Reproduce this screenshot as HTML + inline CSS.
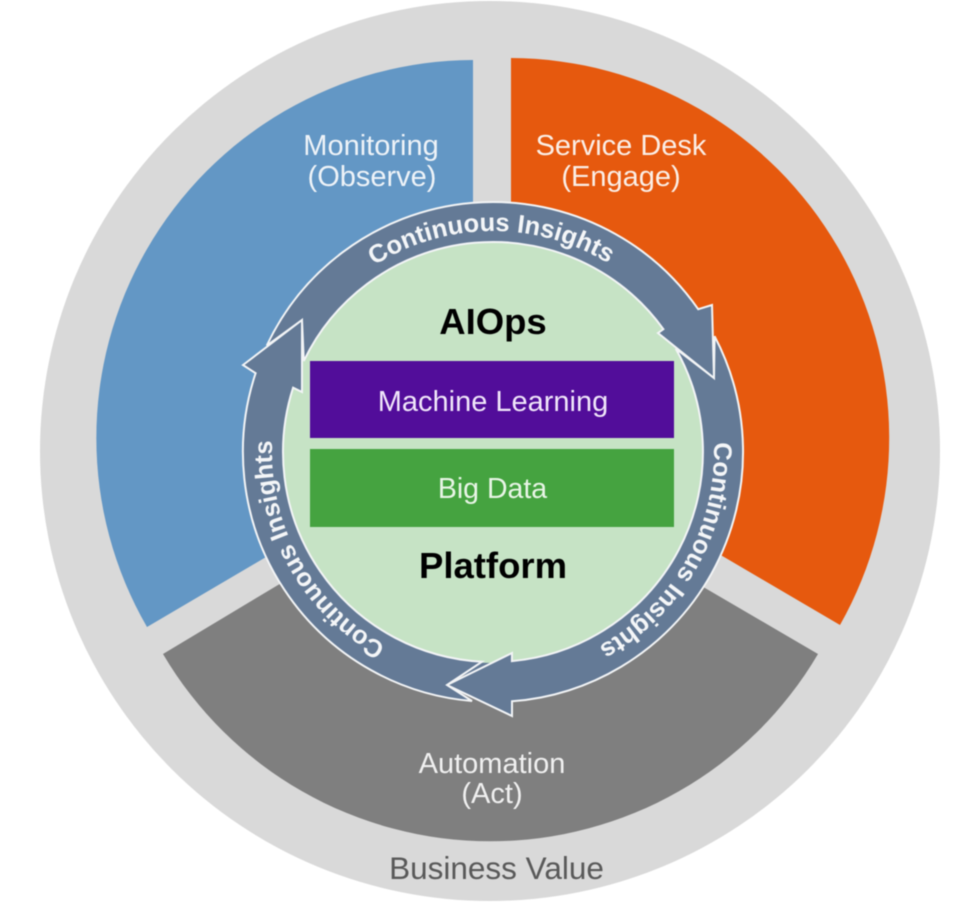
<!DOCTYPE html>
<html>
<head>
<meta charset="utf-8">
<style>
html,body{margin:0;padding:0;background:#fff;width:978px;height:913px;overflow:hidden}
svg{display:block;filter:blur(0.45px)}
text{font-family:"Liberation Sans",Arial,sans-serif}
</style>
</head>
<body>
<svg width="978" height="913" viewBox="0 0 978 913" xmlns="http://www.w3.org/2000/svg">
<defs>
<path id="p" d="M301.6 341.5 A221 221 0 0 1 684.4 341.5"/>
</defs>
<rect width="978" height="913" fill="#fff"/>
<circle cx="490" cy="451" r="450" fill="#d9d9d9"/>

<path d="M473 60 A378 378 0 0 0 147 627 L300 537 L473 437 Z" fill="#6397c5"/>
<path d="M511 58 A380 380 0 0 1 840 625 L690 537 L511 437 Z" fill="#e6590e"/>
<path d="M163 654 A380 380 0 0 0 818 654 L705 588 L493 460 L278 585 Z" fill="#7f7f7f"/>

<circle cx="493" cy="452" r="225" fill="#647a96"/>
<circle cx="493" cy="452" r="211" fill="#c6e3c5"/>

<g stroke="#f2f4f6" stroke-width="2" stroke-linejoin="miter" fill="#647a96">
<path d="M714.6 336.2 A250 250 0 0 1 512 701.3 L512 716 L447 685 L512 653 L511.9 661.1 A210 210 0 0 0 675.8 348.7 L714 378 Z"/>
<path d="M266.8 345.5 A250 250 0 0 1 698.2 309.2 L712 305 L714 378 L658 333 L663.4 329.2 A210 210 0 0 0 303.8 360.9 L302 320 Z"/>
<path d="M472 701 A250 250 0 0 1 255.6 373.2 L243 365 L302 320 L302 392 L293.1 387.7 A210 210 0 0 0 482 661.7 L447 685 Z"/>
</g>

<rect x="310" y="361" width="364" height="77" fill="#520d9a"/>
<rect x="310" y="449" width="364" height="78" fill="#45a340"/>

<g font-size="25.5" font-weight="bold" fill="#f4f6f8" text-anchor="middle">
<g transform="rotate(-0.5 493 452)"><text><textPath href="#p" startOffset="50%">Continuous Insights</textPath></text></g>
<g transform="rotate(119.5 493 452)"><text><textPath href="#p" startOffset="50%">Continuous Insights</textPath></text></g>
<g transform="rotate(241 493 452)"><text><textPath href="#p" startOffset="50%">Continuous Insights</textPath></text></g>
</g>

<g font-size="29" fill="#eef3f8" text-anchor="middle">
<text x="371" y="155">Monitoring</text>
<text x="372" y="186">(Observe)</text>
</g>
<g font-size="29" fill="#fbeee6" text-anchor="middle">
<text x="621" y="155">Service Desk</text>
<text x="621" y="186">(Engage)</text>
</g>
<g font-size="29" fill="#f0f0f0" text-anchor="middle">
<text x="492" y="773">Automation</text>
<text x="492" y="803">(Act)</text>
</g>
<text x="493" y="411" font-size="29" fill="#f0e6fa" text-anchor="middle">Machine Learning</text>
<text x="492.5" y="498" font-size="28.5" fill="#e8f5e6" text-anchor="middle">Big Data</text>
<text x="493" y="334" font-size="36.5" font-weight="bold" fill="#000" text-anchor="middle">AIOps</text>
<text x="493" y="578" font-size="36.5" font-weight="bold" fill="#000" text-anchor="middle">Platform</text>
<text x="496.5" y="879" font-size="31.5" fill="#595959" text-anchor="middle">Business Value</text>
</svg>
</body>
</html>
